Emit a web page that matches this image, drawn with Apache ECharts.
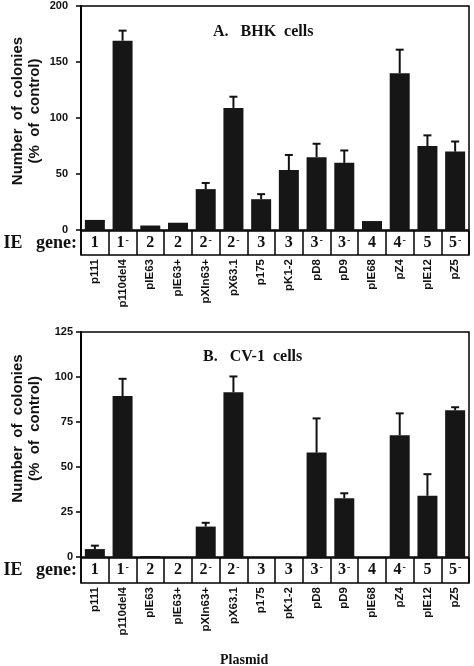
<!DOCTYPE html>
<html>
<head>
<meta charset="utf-8">
<script src="https://cdn.jsdelivr.net/npm/echarts@6/dist/echarts.min.js"></script>
<style>
  html, body { margin: 0; padding: 0; background: #fff; }
  #chart { width: 474px; height: 666px; }
</style>
</head>
<body>
<div id="chart"></div>
<script>
// plasmids and the IE gene each one carries ("-" = mutant, drawn as superscript)
var plasmids = ['p111', 'p110del4', 'pIE63', 'pIE63+', 'pXIn63+', 'pX63.1', 'p175', 'pK1-2', 'pD8', 'pD9', 'pIE68', 'pZ4', 'pIE12', 'pZ5'];
var ieGenes = ['1', '1-', '2', '2', '2-', '2-', '3', '3', '3-', '3-', '4', '4-', '5', '5-'];

// A. BHK cells (% of control), top of error bar
var bhkMean = [9, 169, 4, 6.5, 36.5, 109, 27.5, 53.5, 65, 60, 8, 140, 75, 70];
var bhkTop = [null, 178, null, null, 42, 119, 32, 67, 77, 71, null, 161, 84.5, 79];

// B. CV-1 cells (% of control), top of error bar
var cvMean = [4.4, 89.4, 0.5, 0, 16.9, 91.5, 0, 0, 58, 32.6, 0, 67.6, 34, 81.5];
var cvTop = [6.3, 99, null, null, 19, 100.3, null, null, 77, 35.4, null, 79.8, 46, 83.2];

var serif = 'Liberation Serif';
var sans = 'Liberation Sans';

function errData(mean, top) {
  var out = [];
  for (var i = 0; i < mean.length; i++) {
    if (top[i] != null) out.push([i, top[i], mean[i]]);
  }
  return out;
}

function errItem(params, api) {
  var lo = api.coord([api.value(0), api.value(2)]);
  var hi = api.coord([api.value(0), api.value(1)]);
  return {
    type: 'group',
    children: [
      { type: 'line', shape: { x1: lo[0], y1: lo[1], x2: hi[0], y2: hi[1] }, style: { stroke: '#111', lineWidth: 2 } },
      { type: 'line', shape: { x1: hi[0] - 4, y1: hi[1], x2: hi[0] + 4, y2: hi[1] }, style: { stroke: '#111', lineWidth: 2 } }
    ]
  };
}

function geneLabel(v) {
  if (v.charAt(v.length - 1) === '-') return '{n|' + v.slice(0, -1) + '}{s|-}';
  return '{n|' + v + '}';
}

// the grids keep their exact place: labels and names may stand outside them
var frame = { show: true, borderColor: '#000', borderWidth: 1.5, backgroundColor: 'transparent', outerBoundsMode: 'none', containLabel: false };

var grids = [
  Object.assign({ left: 81, top: 6, width: 388, height: 224 }, frame),
  Object.assign({ left: 81, top: 231, width: 388, height: 24 }, frame),
  Object.assign({ left: 81, top: 332, width: 388, height: 225 }, frame),
  Object.assign({ left: 81, top: 558, width: 388, height: 25 }, frame)
];

function mainX(g) {
  return { type: 'category', gridIndex: g, data: plasmids, axisLine: { show: false }, axisTick: { show: false }, axisLabel: { show: false } };
}
function plasmidX(g) {
  return {
    type: 'category', gridIndex: g, data: plasmids, position: 'bottom',
    axisLine: { show: false }, axisTick: { show: false },
    splitLine: { show: true, lineStyle: { color: '#000', width: 1.5 } },
    axisLabel: { rotate: 90, margin: 4, interval: 0, fontFamily: sans, fontWeight: 'bold', fontSize: 11.5, color: '#111' }
  };
}
function geneX(g) {
  return {
    type: 'category', gridIndex: g, data: ieGenes, position: 'top',
    axisLine: { show: false }, axisTick: { show: false },
    axisLabel: {
      inside: true, margin: 4, interval: 0, formatter: geneLabel,
      rich: {
        n: { fontFamily: serif, fontWeight: 'bold', fontSize: 16, color: '#111' },
        s: { fontFamily: serif, fontWeight: 'bold', fontSize: 10, color: '#111', verticalAlign: 'top', padding: [0, 0, 6, 1] }
      }
    }
  };
}
// namePad lifts the two-line axis name a little above the plot's middle
function mainY(g, max, step, gap, namePad) {
  return {
    type: 'value', gridIndex: g, min: 0, max: max, interval: step,
    name: 'Number  of  colonies\n(%  of  control)', nameLocation: 'middle', nameGap: 38, nameMoveOverlap: false,
    nameTextStyle: { fontFamily: sans, fontWeight: 'bold', fontSize: 15, color: '#111', lineHeight: 17, padding: [0, 0, 0, namePad] },
    axisLine: { show: true, lineStyle: { color: '#000', width: 2 } },
    axisTick: { show: true, length: 5, lineStyle: { color: '#000', width: 1.5 } },
    axisLabel: { margin: gap, fontFamily: sans, fontWeight: 'bold', fontSize: 11, color: '#111' },
    splitLine: { show: false }
  };
}
function geneY(g) {
  return {
    type: 'value', gridIndex: g, min: 0, max: 1,
    name: 'IE   gene:', nameLocation: 'middle', nameRotate: 0, nameGap: 4,
    nameTextStyle: { fontFamily: serif, fontWeight: 'bold', fontSize: 18, color: '#111', align: 'right' },
    axisLine: { show: false }, axisTick: { show: false }, axisLabel: { show: false }, splitLine: { show: false }
  };
}

var titleStyle = { fontFamily: serif, fontWeight: 'bold', fontSize: 16, color: '#111' };

var chart = echarts.init(document.getElementById('chart'));
chart.setOption({
  backgroundColor: '#fff',
  animation: false,
  title: [
    { text: 'A.   BHK  cells', left: 208, top: 19, textStyle: titleStyle },
    { text: 'B.   CV-1  cells', left: 198, top: 344, textStyle: titleStyle },
    { text: 'Plasmid', left: 215, top: 648, textStyle: { fontFamily: serif, fontWeight: 'bold', fontSize: 14, color: '#111' } }
  ],
  grid: grids,
  xAxis: [mainX(0), plasmidX(1), geneX(1), mainX(2), plasmidX(3), geneX(3)],
  yAxis: [mainY(0, 200, 50, 13, 14), geneY(1), mainY(2, 125, 25, 8, 32), geneY(3)],
  series: [
    { type: 'bar', xAxisIndex: 0, yAxisIndex: 0, data: bhkMean, barWidth: 20, itemStyle: { color: '#161616' } },
    { type: 'custom', xAxisIndex: 0, yAxisIndex: 0, data: errData(bhkMean, bhkTop), renderItem: errItem, z: 3 },
    { type: 'bar', xAxisIndex: 3, yAxisIndex: 2, data: cvMean, barWidth: 20, itemStyle: { color: '#161616' } },
    { type: 'custom', xAxisIndex: 3, yAxisIndex: 2, data: errData(cvMean, cvTop), renderItem: errItem, z: 3 }
  ]
});
</script>
</body>
</html>
